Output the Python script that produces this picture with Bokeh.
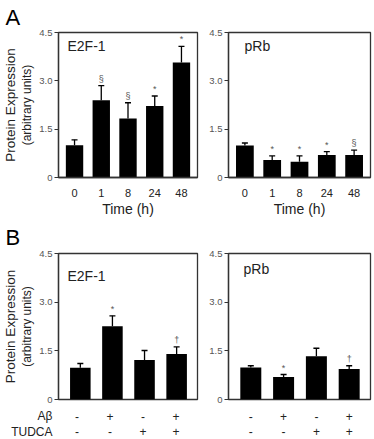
from bokeh.core.properties import value
from bokeh.embed import file_html
from bokeh.layouts import column, row
from bokeh.models import (ColumnDataSource, FactorRange, FixedTicker, Label,
                          Range1d, TeeHead, Title, Whisker)
from bokeh.plotting import figure
from bokeh.resources import INLINE

FONT = "Liberation Sans"

# Panel A: time course (hours)
time_labels = ["0", "1", "8", "24", "48"]
a_e2f1_mean = [1.00, 2.40, 1.83, 2.22, 3.57]
a_e2f1_sem = [0.17, 0.45, 0.49, 0.31, 0.50]
a_e2f1_sig = ["", "§", "§", "*", "*"]
a_prb_mean = [0.99, 0.54, 0.49, 0.70, 0.70]
a_prb_sem = [0.08, 0.13, 0.18, 0.10, 0.15]
a_prb_sig = ["", "*", "*", "*", "§"]

# Panel B: treatment combinations
treatments = ["Aβ", "TUDCA"]
abeta = ["-", "+", "-", "+"]
tudca = ["-", "-", "+", "+"]
b_e2f1_mean = [0.98, 2.26, 1.22, 1.40]
b_e2f1_sem = [0.13, 0.32, 0.29, 0.22]
b_e2f1_sig = ["", "*", "", "†"]
b_prb_mean = [0.99, 0.69, 1.33, 0.94]
b_prb_sem = [0.05, 0.08, 0.25, 0.10]
b_prb_sig = ["", "*", "", "†"]

y_ticks = [0, 1.5, 3.0, 4.5]
y_tick_labels = ["0", "1.5", "3.0", "4.5"]

TEXT = "#222222"
GREY = "#555555"
FRAME = "#333333"


def make_panel(width, height, borders, x_range, means, sems, sigs, name,
               name_pos, bar_width):
    left, right, top, bottom = borders
    p = figure(width=width, height=height, x_range=Range1d(*x_range),
               y_range=Range1d(0, 4.5), output_backend="svg",
               toolbar_location=None, min_border_left=left,
               min_border_right=right, min_border_top=top,
               min_border_bottom=bottom, background_fill_color="white",
               border_fill_color="white")
    p.xgrid.visible = False
    p.ygrid.visible = False
    p.outline_line_color = FRAME
    p.outline_line_width = 1.3

    xs = list(range(len(means)))
    upper = [m + s for m, s in zip(means, sems)]
    src = ColumnDataSource(dict(x=xs, y=means, upper=upper, sig=sigs))

    p.vbar(x="x", top="y", width=bar_width, source=src,
           fill_color="black", line_color=None)
    p.add_layout(Whisker(base="x", lower="y", upper="upper", source=src,
                         dimension="height", line_color="black",
                         line_width=1.3, lower_head=None,
                         upper_head=TeeHead(size=6, line_color="black",
                                            line_width=1.3)))
    p.text(x="x", y="upper", text="sig", source=src, text_align="center",
           text_baseline="bottom", y_offset=-2, text_font=value(FONT),
           text_font_size="9px", text_color=GREY)

    yax = p.yaxis[0]
    yax.ticker = FixedTicker(ticks=y_ticks)
    yax.major_label_overrides = dict(zip(y_ticks, y_tick_labels))
    yax.minor_tick_line_color = None
    yax.major_tick_in = 0
    yax.major_tick_out = 4
    yax.major_tick_line_color = FRAME
    yax.axis_line_color = FRAME
    yax.axis_line_width = 1.3
    yax.major_label_standoff = 2
    yax.major_label_text_font = FONT
    yax.major_label_text_font_size = "9.5px"
    yax.major_label_text_color = GREY

    fh = height - top - bottom
    nx, ny = name_pos
    p.add_layout(Label(x=nx, y=fh - ny, x_units="screen", y_units="screen",
                       text=name, text_font=FONT, text_font_size="14px",
                       text_color=TEXT, text_baseline="middle",
                       text_align="left"))
    return p


def style_xaxis(ax, labels, standoff, size):
    ax.ticker = FixedTicker(ticks=list(range(len(labels))))
    ax.major_label_overrides = dict(zip(range(len(labels)), labels))
    ax.major_tick_line_color = None
    ax.major_tick_out = 0
    ax.major_tick_in = 0
    ax.minor_tick_line_color = None
    ax.major_label_standoff = standoff
    ax.major_label_text_font = FONT
    ax.major_label_text_font_size = size
    ax.major_label_text_color = TEXT


def add_ylabel(p):
    yax = p.yaxis[0]
    yax.axis_label = "(arbitrary units)"
    yax.axis_label_standoff = 2
    yax.axis_label_text_font = FONT
    yax.axis_label_text_font_size = "12px"
    yax.axis_label_text_font_style = "normal"
    yax.axis_label_text_color = TEXT
    p.add_layout(Title(text="Protein Expression", align="center",
                       text_font=FONT, text_font_size="13.5px",
                       text_font_style="normal", text_color=TEXT,
                       standoff=0), "left")


def add_letter(p, letter, standoff):
    p.add_layout(Title(text=letter, align="left", offset=-53,
                       text_font=FONT, text_font_size="22px",
                       text_font_style="normal", text_color="black",
                       standoff=standoff), "above")


# ---- Row A ----
xr_a = (-0.6, 4.6)
a1 = make_panel(205, 219, (54, 8, 29, 42), xr_a, a_e2f1_mean, a_e2f1_sem,
                a_e2f1_sig, "E2F-1", (9, 16), 0.65)
a2 = make_panel(169, 219, (23, 4, 29, 42), xr_a, a_prb_mean, a_prb_sem,
                a_prb_sig, "pRb", (16, 16), 0.65)
for p in (a1, a2):
    ax = p.xaxis[0]
    style_xaxis(ax, time_labels, 11, "11px")
    ax.axis_line_color = FRAME
    ax.axis_line_width = 1.3
    ax.axis_label = "Time (h)"
    ax.axis_label_standoff = 1
    ax.axis_label_text_font = FONT
    ax.axis_label_text_font_size = "14px"
    ax.axis_label_text_font_style = "normal"
    ax.axis_label_text_color = TEXT
add_ylabel(a1)
add_letter(a1, "A", 5)

# ---- Row B: bar panels ----
xr_b = (-0.68, 3.65)
b1 = make_panel(205, 186, (54, 8, 34, 6), xr_b, b_e2f1_mean, b_e2f1_sem,
                b_e2f1_sig, "E2F-1", (9, 22), 0.64)
b2 = make_panel(169, 186, (23, 4, 34, 6), xr_b, b_prb_mean, b_prb_sem,
                b_prb_sig, "pRb", (15, 15), 0.64)
for p in (b1, b2):
    p.xaxis.visible = False
add_ylabel(b1)
add_letter(b1, "B", 7)


# ---- Row B: treatment table under the bars ----
def make_table(width, borders, x_range, show_names):
    left, right = borders
    t = figure(width=width, height=34, x_range=x_range,
               y_range=FactorRange(factors=treatments[::-1]),
               output_backend="svg", toolbar_location=None,
               min_border_left=left, min_border_right=right,
               min_border_top=3, min_border_bottom=0,
               background_fill_color="white", border_fill_color="white")
    t.outline_line_color = None
    t.xgrid.visible = False
    t.ygrid.visible = False
    t.xaxis.visible = False
    yax = t.yaxis[0]
    yax.visible = show_names
    yax.axis_line_color = None
    yax.major_tick_line_color = None
    yax.major_tick_out = 0
    yax.major_tick_in = 0
    yax.major_label_standoff = 2
    yax.major_label_text_font = FONT
    yax.major_label_text_font_size = "12px"
    yax.major_label_text_color = TEXT
    xs = list(range(len(abeta)))
    src = ColumnDataSource(dict(
        x=xs + xs,
        row=[treatments[0]] * len(abeta) + [treatments[1]] * len(tudca),
        sign=abeta + tudca))
    t.text(x="x", y="row", text="sign", source=src, text_align="center",
           text_baseline="middle", text_font=value(FONT),
           text_font_size="12px", text_color=TEXT)
    return t


t1 = make_table(205, (54, 8), b1.x_range, True)
t2 = make_table(169, (23, 4), b2.x_range, False)

layout = column(row(a1, a2), row(b1, b2), row(t1, t2))
open("out.html", "w").write(file_html(layout, INLINE))
